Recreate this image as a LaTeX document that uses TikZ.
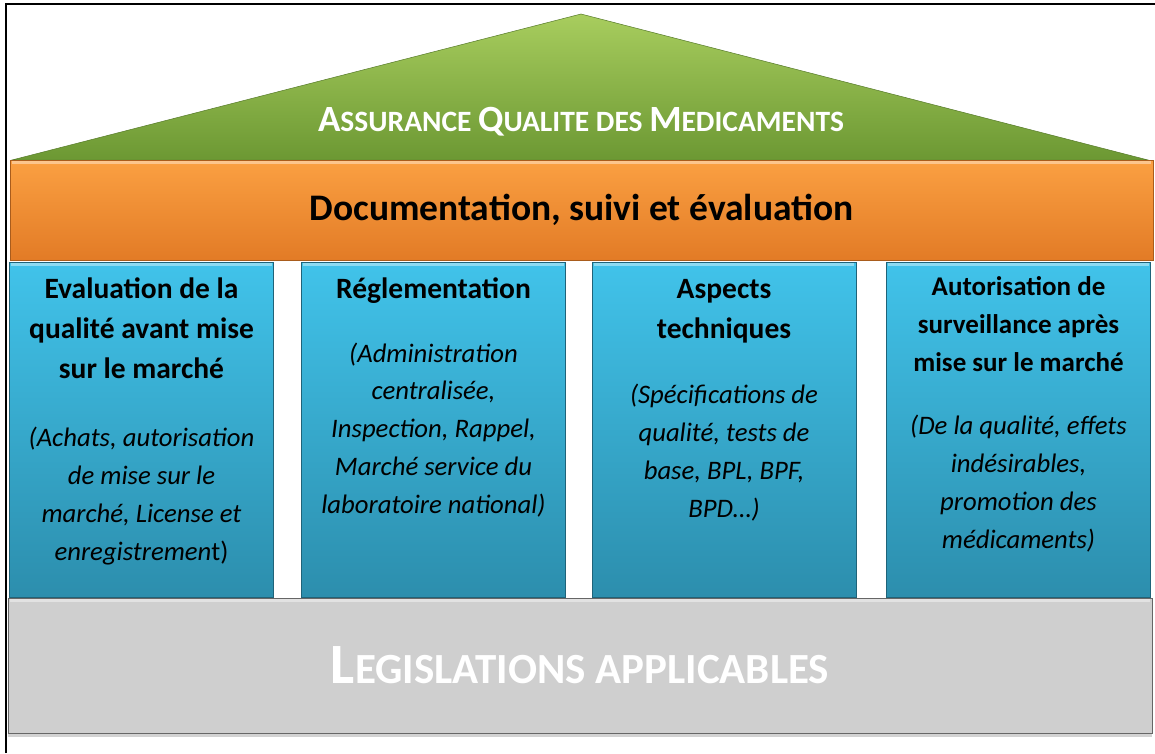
\documentclass[tikz,border=0pt]{standalone}
\usepackage{fontspec}
\setmainfont{Carlito}
\usepackage{tikz}
\usetikzlibrary{shadows}
\usepackage{xcolor}
\definecolor{hgreentop}{HTML}{A8CD5E}
\definecolor{hgreenbot}{HTML}{6C9833}
\definecolor{horangetop}{HTML}{FBA042}
\definecolor{horangebot}{HTML}{E27B26}
\definecolor{hbluetop}{HTML}{41C3EA}
\definecolor{hbluebot}{HTML}{2C8EAD}
\definecolor{hgrey}{HTML}{CFCFCF}
% fake small capitals
\newcommand{\roofbig}[1]{{\fontsize{37}{40}\selectfont #1}}
\newcommand{\roofsmall}[1]{{\fontsize{29.5}{40}\selectfont #1}}
\newcommand{\basebig}[1]{{\fontsize{57}{60}\selectfont #1}}
\newcommand{\basesmall}[1]{{\fontsize{43}{60}\selectfont #1}}

\begin{document}
\begin{tikzpicture}[x=1pt,y=-1pt,
    bandbox/.style={rectangle, inner sep=0pt, minimum width=1143pt, minimum height=100pt,
      top color=horangetop, bottom color=horangebot, draw=horangebot!75!black, line width=0.6pt,
      font=\bfseries\fontsize{37.5}{44}\selectfont},
    pillarbox/.style={rectangle, inner sep=0pt, minimum width=264pt, minimum height=335pt,
      top color=hbluetop, bottom color=hbluebot, draw=hbluebot!70!black, line width=0.6pt,
      drop shadow={shadow xshift=0pt, shadow yshift=-3pt, opacity=.35}},
    basebox/.style={rectangle, inner sep=0pt, minimum width=1144pt, minimum height=135pt,
      fill=hgrey, draw=gray!80!black, line width=0.6pt, text=white, font=\bfseries,
      drop shadow={shadow xshift=0pt, shadow yshift=-4pt, opacity=.35}},
    headtext/.style={align=center, inner sep=0pt, anchor=base, font=\bfseries\fontsize{29.5}{40}\selectfont},
    subtext/.style={align=center, inner sep=0pt, anchor=base, font=\itshape\fontsize{26.7}{37.7}\selectfont},
    bevel/.style={white, opacity=.4, line width=3pt}]
          \useasboundingbox (0,0) rectangle (1155,753);
          \fill[white] (0,0) rectangle (1155,753);
          \draw[line width=2pt] (6,753) -- (6,4) -- (1155,4);
          % roof
          \shade[top color=hgreentop, bottom color=hgreenbot, draw=hgreenbot!80!black, line width=0.5pt]
            (12,160) -- (581,14) -- (1148,160) -- cycle;
          \node[text=white, font=\bfseries, inner sep=0pt] (roof) at (581,122)
            {\roofbig{A}\roofsmall{SSURANCE }\roofbig{Q}\roofsmall{UALITE DES }\roofbig{M}\roofsmall{EDICAMENTS}};
          % band
          \node[bandbox] (band) at (581.5,210) {Documentation, suivi et évaluation};
          % pillars (text nodes sit on the baseline of their last line)
          \node[pillarbox] (p1) at (141.5,429.5) {};
          \node[pillarbox] (p2) at (433.5,429.5) {};
          \node[pillarbox] (p3) at (724,429.5) {};
          \node[pillarbox] (p4) at (1018.5,429.5) {};
          % foundation
          \node[basebox] (base) at (580,665.5)
            {\basebig{L}\basesmall{EGISLATIONS APPLICABLES}};
          \foreach \n in {band,p1,p2,p3,p4,base}
            \draw[bevel] ([shift={(2,3)}]\n.north west) -- ([shift={(-2,3)}]\n.north east);
          \node[headtext] (h1) at (141.5,378) {Evaluation de la\\qualité avant mise\\sur le marché};
          \node[subtext] (s1) at (141.5,560) {(Achats, autorisation\\de mise sur le\\marché, License et\\enregistremen{\upshape t)}};
          \node[headtext] (h2) at (433.5,298) {Réglementation};
          \node[subtext] (s2) at (433.5,513) {(Administration\\centralisée,\\Inspection, Rappel,\\Marché service du\\laboratoire national)};
          \node[headtext] (h3) at (724,338) {Aspects\\techniques};
          \node[subtext] (s3) at (724,517) {(Spécifications de\\qualité, tests de\\base, BPL, BPF,\\BPD…)};
          \node[headtext, font=\bfseries\fontsize{27}{38}\selectfont] (h4) at (1018.5,371) {Autorisation de\\surveillance après\\mise sur le marché};
          \node[subtext] (s4) at (1018.5,548) {(De la qualité, effets\\indésirables,\\promotion des\\médicaments)};
      \end{tikzpicture}
\end{document}
